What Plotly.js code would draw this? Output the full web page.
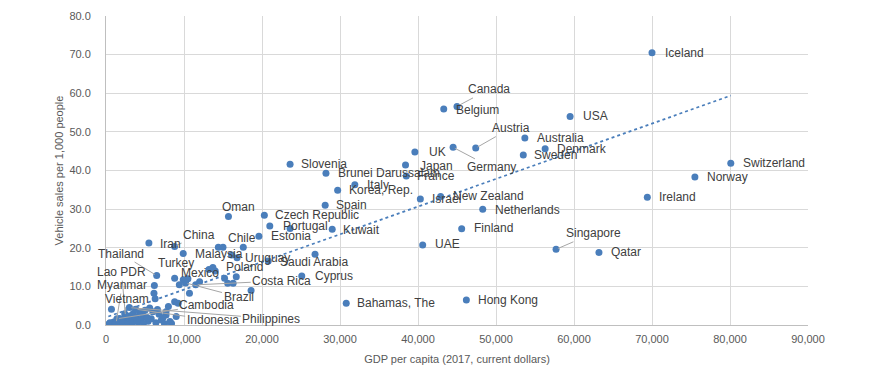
<!DOCTYPE html>
<html>
<head>
<meta charset="utf-8">
<script src="https://cdn.plot.ly/plotly-3.0.1.min.js"></script>
<style>html,body{margin:0;padding:0;background:#fff;}#chart{width:896px;height:376px;}</style>
</head>
<body>
<div id="chart"></div>
<script>
// ---- Data ----
var countries = ["Iceland","USA","Canada","Belgium","Austria","Germany","Australia","Denmark","Sweden","Switzerland",
  "Norway","Ireland","UK","Japan","France","Brunei Darussalam","Italy","Korea, Rep.","Spain","Slovenia",
  "Israel","New Zealand","Netherlands","Finland","UAE","Singapore","Qatar","Hong Kong","Bahamas, The","Cyprus",
  "Saudi Arabia","Kuwait","Estonia","Portugal","Czech Republic","Oman","Chile","Uruguay","Malaysia","China",
  "Iran","Thailand","Turkey","Mexico","Poland","Costa Rica","Brazil","Lao PDR","Myanmar","Vietnam",
  "Cambodia","Indonesia","Philippines"];
var gdpPerCapita = [70000,59500,45000,43300,47400,44500,53700,56300,53500,80100,
  75500,69400,39600,38400,38500,28200,31900,29700,28100,23600,
  40300,42900,48300,45600,40600,57700,63200,46200,30800,25100,
  20800,29000,19600,21000,20300,15700,15000,16800,9900,8800,
  5500,6500,10500,8800,13700,11500,10200,2500,1300,2400,
  1400,3800,3000];
var salesPer1000 = [70.5,54.0,56.6,55.9,45.8,46.0,48.4,45.6,44.0,41.9,
  38.3,33.1,44.8,41.4,38.6,39.3,36.3,34.9,31.0,41.6,
  32.6,33.3,30.0,24.9,20.7,19.6,18.8,6.5,5.6,12.7,
  16.6,24.8,23.0,25.6,28.4,28.1,20.1,17.4,18.5,20.3,
  21.2,12.8,12.0,12.1,14.9,10.4,10.9,2.3,0.5,2.9,
  1.6,4.1,4.5];

// other (unlabelled) countries
var otherGdp = [23600,26800,14400,17600,16100,13200,14000,16700,15200,15600,16300,18600,
  9900,10700,9400,6200,6150,9250,8800,6300,700,7700,8400,7100,8200,4700,6000,7700,1750,
  300,450,600,750,900,1000,1150,1450,1600,1800,1950,2100,2250,2600,2750,2900,3100,3300,
  3500,3700,3900,4100,4300,4500,5000,5200,5400,5600,5800,6400,6600,6800,7300,7500,8000,9000,
  500,1100,1700,2000,3400,4000,4800,5300,12000];
var otherSales = [25.0,18.3,20.1,20.1,18.1,14.4,14.0,12.5,12.1,10.8,10.8,8.9,
  11.7,8.2,10.4,10.2,8.2,5.6,6.0,6.8,4.1,3.4,0.4,1.3,0.9,2.6,3.4,2.6,1.7,
  0.1,0.3,0.2,0.5,0.2,0.8,0.4,0.3,0.7,1.2,0.5,1.5,0.9,1.3,0.6,1.8,2.4,1.1,
  3.0,1.6,2.0,0.8,3.4,1.4,3.8,2.0,1.0,4.4,1.6,0.6,4.0,2.8,1.9,0.3,4.8,2.2,
  0.6,0.2,0.3,0.9,0.5,1.2,0.4,1.8,11.2];

// dotted linear trend line end points
var trendX = [300, 80100];
var trendY = [2.2, 59.4];

// ---- label placement (pixel offsets from the point; not data) ----
// [name, dx, dy, mode]  mode: 'r' right of point, 'c' centred text, 'l' leader line
var labelPlace = [
  ["Iceland",11,0,"r"],["USA",11,0,"r"],["Canada",32,-17,"l"],["Belgium",10,1,"r"],
  ["Austria",35,-20,"l"],["Germany",38,20,"l"],["Australia",10,0,"r"],["Denmark",10,0,"r"],
  ["Sweden",9,0,"r"],["Switzerland",10,0,"r"],["Norway",10,0,"r"],["Ireland",10,0,"r"],
  ["UK",12,0,"r"],["Japan",12,1,"r"],["France",9,0,"r"],["Brunei Darussalam",10,0,"r"],
  ["Italy",10,0,"r"],["Korea, Rep.",9,0,"r"],["Spain",9,0,"r"],["Slovenia",9,0,"r"],
  ["Israel",10,0,"r"],["New Zealand",10,0,"r"],["Netherlands",10,1,"r"],["Finland",10,-1,"r"],
  ["UAE",10,-1,"r"],["Singapore",37,-16,"l"],["Qatar",10,0,"r"],["Hong Kong",10,0,"r"],
  ["Bahamas, The",9,0,"r"],["Cyprus",11,0,"r"],["Saudi Arabia",10,1,"r"],["Kuwait",9,1,"r"],
  ["Estonia",10,0,"r"],["Portugal",11,0,"r"],["Czech Republic",9,0,"r"],["Oman",10,-9,"c"],
  ["Chile",19,-9,"c"],["Uruguay",6,0,"r"],["Malaysia",10,0,"r"],["China",24,-12,"l"],
  ["Iran",9,1,"r"],["Thailand",-36,-22,"l"],["Turkey",-12,-16,"c"],["Mexico",4,-5,"r"],
  ["Poland",11,0,"r"],["Costa Rica",86,-4,"l"],["Brazil",53,14,"l"],["Lao PDR",-4,-44,"l"],
  ["Myanmar",6,-38,"l"],["Vietnam",2,-15,"l"],["Cambodia",90,-14,"l"],["Indonesia",77,11,"l"],
  ["Philippines",142,11,"l"]
];

var blue = "#4a7ebb";
var labelFont = {family: "Liberation Sans, Arial, sans-serif", size: 12, color: "#404040"};

var annotations = labelPlace.map(function (p) {
  var i = countries.indexOf(p[0]);
  var a = {x: gdpPerCapita[i], y: salesPer1000[i], xref: "x", yref: "y", text: p[0], font: labelFont};
  if (p[3] === "l") {
    a.showarrow = true; a.ax = p[1]; a.ay = p[2]; a.arrowhead = 0; a.arrowwidth = 1;
    a.arrowcolor = "#a6a6a6"; a.standoff = 2;
  } else if (p[3] === "c") {
    a.showarrow = false; a.xanchor = "center"; a.xshift = p[1]; a.yshift = -p[2];
  } else {
    a.showarrow = false; a.xanchor = "left"; a.xshift = p[1]; a.yshift = -p[2];
  }
  return a;
});

var traces = [
  {x: otherGdp, y: otherSales, type: "scatter", mode: "markers", hoverinfo: "skip",
   marker: {color: blue, size: 7}},
  {x: gdpPerCapita, y: salesPer1000, text: countries, type: "scatter", mode: "markers",
   marker: {color: blue, size: 7}},
  {x: trendX, y: trendY, type: "scatter", mode: "lines",
   line: {color: blue, width: 1.75, dash: "dot"}}
];

var tickFont = {family: "Liberation Sans, Arial, sans-serif", size: 11, color: "#595959"};
var layout = {
  width: 896, height: 376,
  margin: {l: 106, r: 88, t: 16, b: 51},
  paper_bgcolor: "#ffffff", plot_bgcolor: "#ffffff",
  showlegend: false,
  xaxis: {range: [0, 90000], dtick: 10000, tick0: 0, tickformat: ",d",
    showgrid: true, gridcolor: "#d9d9d9", gridwidth: 1, zeroline: false,
    showline: true, linecolor: "#bfbfbf", linewidth: 1, ticks: "",
    tickfont: tickFont, ticklabelstandoff: 4,
    title: {text: "GDP per capita (2017, current dollars)", font: tickFont, standoff: 11}},
  yaxis: {range: [0, 80], dtick: 10, tick0: 0, tickformat: ".1f",
    showgrid: true, gridcolor: "#d9d9d9", gridwidth: 1, zeroline: false,
    showline: true, linecolor: "#bfbfbf", linewidth: 1, ticks: "",
    tickfont: tickFont, ticklabelstandoff: 12,
    title: {text: "Vehicle sales per 1,000 people", font: tickFont, standoff: 3}},
  annotations: annotations
};

Plotly.newPlot("chart", traces, layout, {staticPlot: true, displayModeBar: false});
</script>
</body>
</html>
